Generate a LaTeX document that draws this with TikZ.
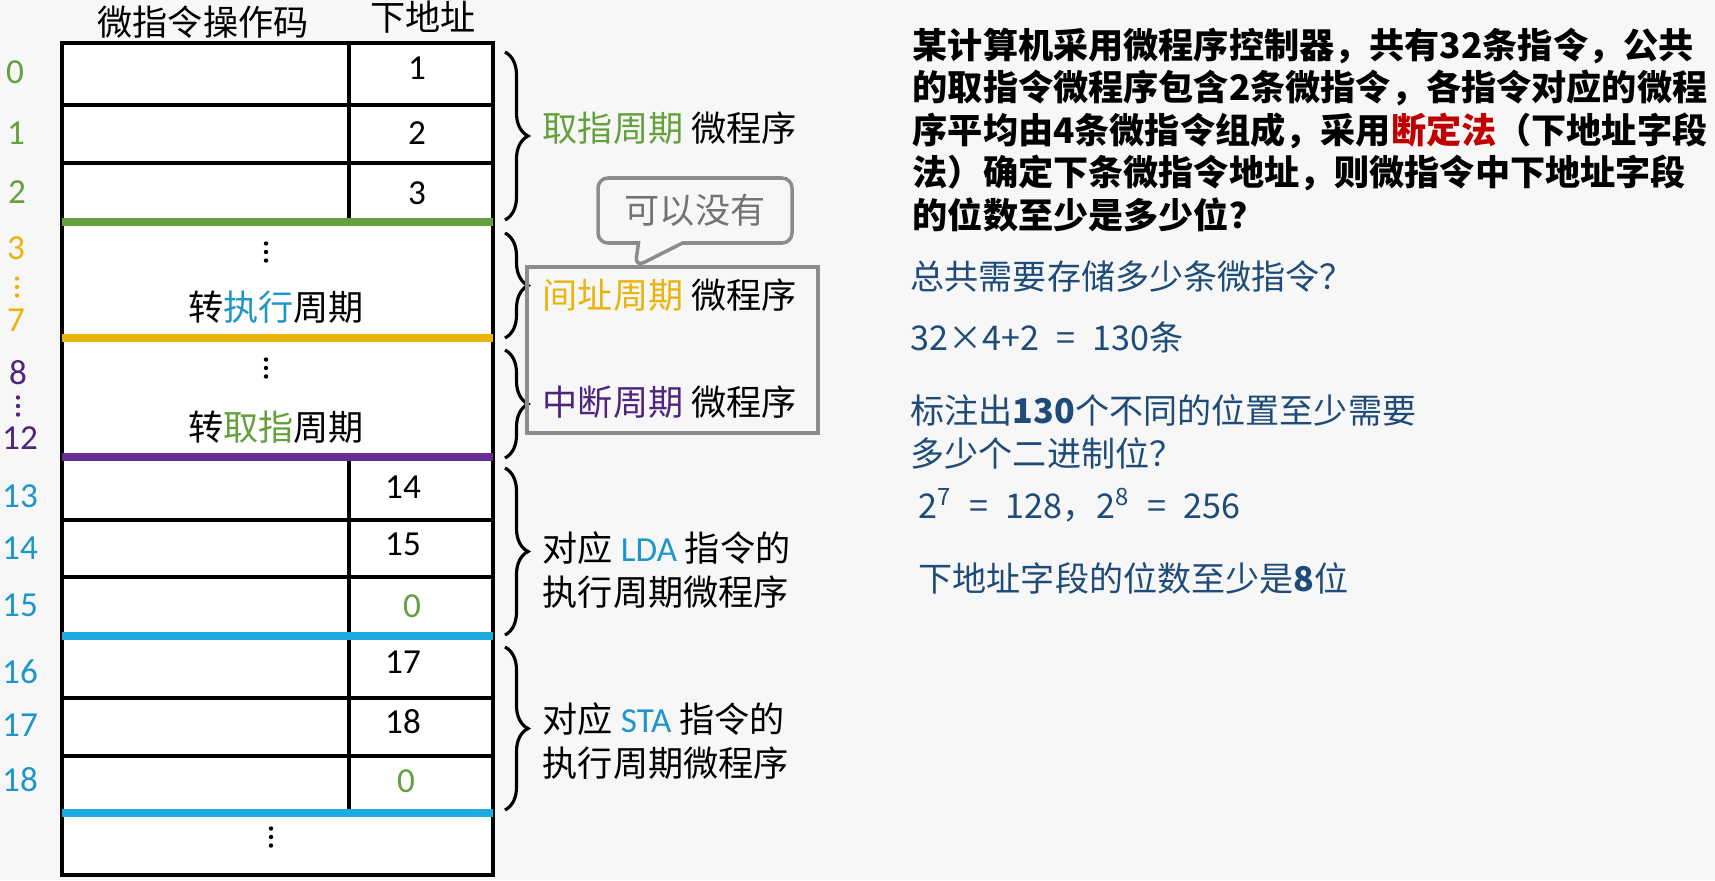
\documentclass[tikz,border=0pt]{standalone}
\usepackage{fontspec}
\setmainfont{Carlito}
\newfontfamily\cjk{Noto Sans CJK SC}
\usetikzlibrary{decorations.pathreplacing,shapes.callouts}

\definecolor{fetchgreen}{RGB}{100,160,60}
\definecolor{indgold}{RGB}{235,180,10}
\definecolor{intpurple}{RGB}{80,35,125}
\definecolor{linepurple}{RGB}{105,45,150}
\definecolor{execcyan}{RGB}{30,150,200}
\definecolor{linecyan}{RGB}{28,170,225}
\definecolor{ansblue}{RGB}{30,75,120}
\definecolor{keyred}{RGB}{192,0,0}

\tikzset{
  vdts/.pic={\fill (0,-0.085) circle (0.022) (0,0) circle (0.022) (0,0.085) circle (0.022);}
}

\begin{document}
\begin{tikzpicture}[x=1cm,y=-1cm,
  cell/.style={line width=1.2pt},
  sepline/.style={line width=2.2pt},
  brc/.style={decorate,decoration={brace,amplitude=0.23cm},line width=0.9pt},
  lbl/.style={anchor=west,inner sep=0pt,font=\cjk,align=left},
  ans/.style={anchor=west,inner sep=0pt,text=ansblue,font=\cjk\fontsize{9.7pt}{12pt}\selectfont}]
\useasboundingbox[fill=black!3] (0,0) rectangle (17.15,8.80);

% table
\fill[white] (0.62,0.43) rectangle (4.93,8.75);
\draw[cell] (0.62,0.43) rectangle (4.93,8.75);
\draw[cell] (3.49,0.43) -- (3.49,2.22);
\draw[cell] (3.49,4.57) -- (3.49,8.13);
\draw[cell] (0.62,1.05) -- (4.93,1.05);
\draw[cell] (0.62,1.63) -- (4.93,1.63);
\draw[cell] (0.62,5.20) -- (4.93,5.20);
\draw[cell] (0.62,5.77) -- (4.93,5.77);
\draw[cell] (0.62,6.98) -- (4.93,6.98);
\draw[cell] (0.62,7.56) -- (4.93,7.56);
\draw[sepline,fetchgreen] (0.62,2.22) -- (4.93,2.22);
\draw[sepline,indgold] (0.62,3.38) -- (4.93,3.38);
\draw[sepline,linepurple] (0.62,4.57) -- (4.93,4.57);
\draw[sepline,linecyan] (0.62,6.36) -- (4.93,6.36);
\draw[sepline,linecyan] (0.62,8.13) -- (4.93,8.13);

\node (hop) at (2.03,0.22) {\cjk 微指令操作码};
\node (hna) at (4.23,0.17) {\cjk 下地址};

\node (n1) at (4.17,0.68) {1};
\node (n2) at (4.17,1.33) {2};
\node (n3) at (4.17,1.93) {3};
\node (n14) at (4.03,4.87) {14};
\node (n15) at (4.03,5.44) {15};
\node[text=fetchgreen] (n0a) at (4.12,6.06) {0};
\node (n17) at (4.03,6.62) {17};
\node (n18) at (4.03,7.22) {18};
\node[text=fetchgreen] (n0b) at (4.06,7.81) {0};

\pic (d1) at (2.66,2.52) {vdts};
\node (goexe) at (2.76,3.07) {\cjk 转\textcolor{execcyan}{执行}周期};
\pic (d2) at (2.66,3.68) {vdts};
\node (gofet) at (2.76,4.27) {\cjk 转\textcolor{fetchgreen}{取指}周期};
\pic (d3) at (2.71,8.37) {vdts};

% row addresses
\node[text=fetchgreen] (r0) at (0.15,0.72) {0};
\node[text=fetchgreen] (r1) at (0.16,1.33) {1};
\node[text=fetchgreen] (r2) at (0.17,1.92) {2};
\node[text=indgold] (r3) at (0.16,2.48) {3};
\pic[color=indgold] (rd1) at (0.17,2.87) {vdts};
\node[text=indgold] (r7) at (0.16,3.20) {7};
\node[text=intpurple] (r8) at (0.18,3.73) {8};
\pic[color=intpurple] (rd2) at (0.18,4.06) {vdts};
\node[text=intpurple] (r12) at (0.20,4.38) {12};
\node[text=execcyan] (r13) at (0.20,4.96) {13};
\node[text=execcyan] (r14) at (0.20,5.48) {14};
\node[text=execcyan] (r15) at (0.20,6.05) {15};
\node[text=execcyan] (r16) at (0.20,6.72) {16};
\node[text=execcyan] (r17) at (0.20,7.25) {17};
\node[text=execcyan] (r18) at (0.20,7.80) {18};

% braces
\coordinate (b1t) at (5.05,0.52);
\coordinate (b1b) at (5.05,2.20);
\coordinate (b2t) at (5.05,2.33);
\coordinate (b2b) at (5.05,3.38);
\coordinate (b3t) at (5.05,3.50);
\coordinate (b3b) at (5.05,4.58);
\coordinate (b4t) at (5.05,4.68);
\coordinate (b4b) at (5.05,6.35);
\coordinate (b5t) at (5.05,6.47);
\coordinate (b5b) at (5.05,8.10);
\draw[brc] (b1t) -- (b1b);
\draw[brc] (b2t) -- (b2b);
\draw[brc] (b3t) -- (b3b);
\draw[brc] (b4t) -- (b4b);
\draw[brc] (b5t) -- (b5b);

\draw[black!45,line width=1pt] (5.27,2.67) rectangle (8.18,4.33);
\node[rectangle callout,draw=black!45,fill=black!3,line width=1pt,rounded corners=0.1cm,
  minimum width=1.94cm,minimum height=0.65cm,text=black!55,font=\cjk,
  callout absolute pointer={(6.35,2.67)},callout pointer width=0.44cm] (note) at (6.95,2.105) {可以没有};

\node[lbl] (lfet) at (5.42,1.28) {\textcolor{fetchgreen}{取指周期} 微程序};
\node[lbl] (lind) at (5.42,2.95) {\textcolor{indgold}{间址周期} 微程序};
\node[lbl] (lint) at (5.42,4.02) {\textcolor{intpurple}{中断周期} 微程序};
\node[lbl,font=\cjk\fontsize{10pt}{12.5pt}\selectfont] (llda) at (5.42,5.70)
  {对应 \textcolor{execcyan}{\rmfamily LDA} 指令的\\执行周期微程序};
\node[lbl,font=\cjk\fontsize{10pt}{12.5pt}\selectfont] (lsta) at (5.42,7.41)
  {对应 \textcolor{execcyan}{\rmfamily STA} 指令的\\执行周期微程序};

% question
\node[anchor=north west,inner sep=0pt,align=left,font=\cjk\bfseries\fontsize{10pt}{12.1pt}\selectfont] (quest) at (9.12,0.27)
  {某计算机采用微程序控制器，共有32条指令，公共\\
   的取指令微程序包含2条微指令，各指令对应的微程\\
   序平均由4条微指令组成，采用\textcolor{keyred}{断定法}（下地址字段\\
   法）确定下条微指令地址，则微指令中下地址字段\\
   的位数至少是多少位？};

\node[ans] (q1) at (9.10,2.77) {总共需要存储多少条微指令？};
\node[ans] (q2) at (9.10,3.37) {32×4+2\enspace=\enspace130条};
\node[ans] (q3) at (9.10,4.10) {标注出\textbf{130}个不同的位置至少需要};
\node[ans] (q4) at (9.10,4.53) {多少个二进制位？};
\node[ans] (q5) at (9.18,5.05) {2\textsuperscript{7}\enspace=\enspace128，2\textsuperscript{8}\enspace=\enspace256};
\node[ans] (q6) at (9.18,5.78) {下地址字段的位数至少是\textbf{8}位};
\end{tikzpicture}
\end{document}
